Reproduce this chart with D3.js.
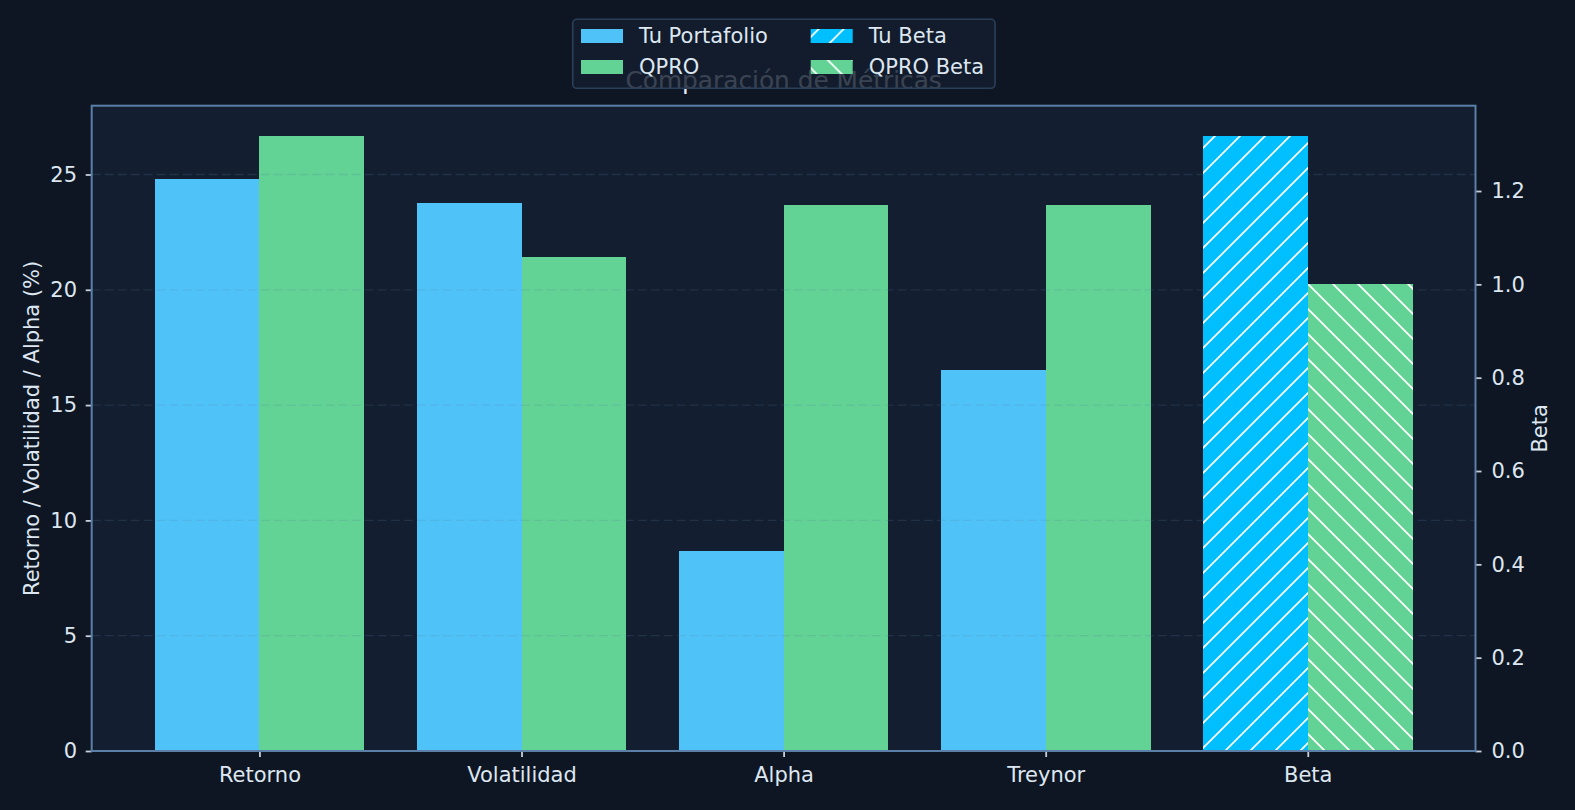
<!DOCTYPE html>
<html>
<head>
<meta charset="utf-8">
<script src="https://cdn.jsdelivr.net/npm/d3@7"></script>
<style>
  html, body { margin: 0; padding: 0; background: #0f1623; overflow: hidden; }
  svg { display: block; font-family: "DejaVu Sans", sans-serif; }
</style>
</head>
<body>
<div id="wrapper"></div>
<script>
// data
const categories = ["Retorno", "Volatilidad", "Alpha", "Treynor", "Beta"]
const metricCategories = ["Retorno", "Volatilidad", "Alpha", "Treynor"]
const portfolioValues = [24.79, 23.75, 8.67, 16.51]
const benchmarkValues = [26.65, 21.41, 23.67, 23.67]
const betaCategory = "Beta"
const betaValues = [1.317, 1.0]
const leftTicks = [0, 5, 10, 15, 20, 25]
const rightTicks = [0, 0.2, 0.4, 0.6, 0.8, 1.0, 1.2]
const seriesNames = ["Tu Portafolio", "QPRO", "Tu Beta", "QPRO Beta"]

function draw(){

    // 1. Dimensions
    let dimensions = {
        width: 1575,
        height: 810,
        margin: {top: 105.7, right: 99.5, bottom: 59, left: 91.7},
    }
    dimensions.boundedWidth = dimensions.width - dimensions.margin.left - dimensions.margin.right
    dimensions.boundedHeight = dimensions.height - dimensions.margin.top - dimensions.margin.bottom

    const colors = {
        portfolio: "#4fc3f7",
        benchmark: "#62d394",
        beta: "#00bfff",
        text: "#dde7f1",
        spine: "#5b7fa6",
        tick: "#c5d0dc",
        axesBg: "#131e30",
    }
    const fontSize = 21
    const barWidth = 0.4

    // 2. Scales (absolute pixel ranges so the hatch lines up everywhere)
    const left = dimensions.margin.left
    const right = dimensions.width - dimensions.margin.right
    const top = dimensions.margin.top
    const bottom = dimensions.height - dimensions.margin.bottom

    const xScale = d3.scaleLinear()
        .domain([-0.64, categories.length - 1 + 0.64])
        .range([left, right])

    const yScale = d3.scaleLinear()
        .domain([0, d3.max(benchmarkValues.concat(portfolioValues)) * 1.05])
        .range([bottom, top])

    const yBetaScale = d3.scaleLinear()
        .domain([0, d3.max(betaValues) * 1.05])
        .range([bottom, top])

    const idx = c => categories.indexOf(c)

    // 3. Canvas
    const svg = d3.select("#wrapper")
        .append("svg")
        .attr("width", dimensions.width)
        .attr("height", dimensions.height)

    svg.append("rect")
        .attr("width", dimensions.width)
        .attr("height", dimensions.height)
        .attr("fill", "#0f1623")

    // hatch patterns
    const defs = svg.append("defs")
    const hatchUp = defs.append("pattern")
        .attr("id", "hatch-up")
        .attr("patternUnits", "userSpaceOnUse")
        .attr("width", 25).attr("height", 25)
    hatchUp.append("rect").attr("width", 25).attr("height", 25).attr("fill", colors.beta)
    hatchUp.append("path")
        .attr("d", "M-1,2L2,-1M-1,27L27,-1M24,27L27,24")
        .attr("stroke", "white").attr("stroke-width", 1.7)

    const hatchDown = defs.append("pattern")
        .attr("id", "hatch-down")
        .attr("patternUnits", "userSpaceOnUse")
        .attr("width", 25).attr("height", 25)
    hatchDown.append("rect").attr("width", 25).attr("height", 25).attr("fill", colors.benchmark)
    hatchDown.append("path")
        .attr("d", "M-2,-1L27,28M23,-1L27,3M-2,24L2,28")
        .attr("stroke", "white").attr("stroke-width", 1.7)

    // axes background
    svg.append("rect")
        .attr("x", left).attr("y", top)
        .attr("width", dimensions.boundedWidth)
        .attr("height", dimensions.boundedHeight)
        .attr("fill", colors.axesBg)

    // 4. Primary bars
    const bars = svg.append("g")
        .attr("class", "bars")
        .attr("shape-rendering", "crispEdges")

    bars.selectAll(".bar-portfolio")
        .data(metricCategories.map((c, i) => ({c, v: portfolioValues[i]})))
        .join("rect")
        .attr("class", "bar-portfolio")
        .attr("x", d => xScale(idx(d.c) - barWidth))
        .attr("width", d => xScale(idx(d.c)) - xScale(idx(d.c) - barWidth))
        .attr("y", d => yScale(d.v))
        .attr("height", d => yScale(0) - yScale(d.v))
        .attr("fill", colors.portfolio)

    bars.selectAll(".bar-benchmark")
        .data(metricCategories.map((c, i) => ({c, v: benchmarkValues[i]})))
        .join("rect")
        .attr("class", "bar-benchmark")
        .attr("x", d => xScale(idx(d.c)))
        .attr("width", d => xScale(idx(d.c) + barWidth) - xScale(idx(d.c)))
        .attr("y", d => yScale(d.v))
        .attr("height", d => yScale(0) - yScale(d.v))
        .attr("fill", colors.benchmark)

    // grid (left axis only, above the primary bars)
    svg.append("g")
        .attr("class", "grid")
        .selectAll("line")
        .data(leftTicks.filter(d => d > 0))
        .join("line")
        .attr("x1", left).attr("x2", right)
        .attr("y1", d => yScale(d)).attr("y2", d => yScale(d))
        .attr("stroke", "#5b7fa6")
        .attr("stroke-opacity", 0.2)
        .attr("stroke-width", 1.3)
        .attr("stroke-dasharray", "9,4")

    // 5. Beta bars on the twin axis
    const betaBars = svg.append("g")
        .attr("class", "beta-bars")
        .attr("shape-rendering", "crispEdges")
    const bi = idx(betaCategory)

    betaBars.selectAll("rect")
        .data(betaValues)
        .join("rect")
        .attr("x", (d, i) => xScale(bi - barWidth + i * barWidth))
        .attr("width", xScale(bi) - xScale(bi - barWidth))
        .attr("y", d => yBetaScale(d))
        .attr("height", d => yBetaScale(0) - yBetaScale(d))
        .attr("fill", (d, i) => i === 0 ? "url(#hatch-up)" : "url(#hatch-down)")

    // 6. Axes
    const styleAxis = g => {
        g.select(".domain").remove()
        g.selectAll(".tick line").attr("stroke", colors.tick).attr("stroke-width", 1.8)
        g.selectAll(".tick text")
            .attr("fill", colors.text)
            .style("font-size", `${fontSize}px`)
            .style("font-family", "DejaVu Sans")
    }

    svg.append("g")
        .attr("class", "x-axis")
        .attr("transform", `translate(0, ${bottom})`)
        .call(d3.axisBottom(xScale)
            .tickValues(categories.map((c, i) => i))
            .tickFormat(i => categories[i])
            .tickSize(6)
            .tickPadding(10.5))
        .call(styleAxis)

    svg.append("g")
        .attr("class", "y-axis")
        .attr("transform", `translate(${left}, 0)`)
        .call(d3.axisLeft(yScale)
            .tickValues(leftTicks)
            .tickFormat(d3.format("d"))
            .tickSize(6)
            .tickPadding(8.7))
        .call(styleAxis)

    svg.append("g")
        .attr("class", "y-axis-beta")
        .attr("transform", `translate(${right}, 0)`)
        .call(d3.axisRight(yBetaScale)
            .tickValues(rightTicks)
            .tickFormat(d3.format(".1f"))
            .tickSize(6)
            .tickPadding(10))
        .call(styleAxis)

    // spines
    svg.append("rect")
        .attr("x", left).attr("y", top)
        .attr("width", dimensions.boundedWidth)
        .attr("height", dimensions.boundedHeight)
        .attr("fill", "none")
        .attr("stroke", colors.spine)
        .attr("stroke-width", 2)

    // axis titles
    svg.append("text")
        .attr("transform", `translate(32, ${(top + bottom) / 2}) rotate(-90)`)
        .attr("text-anchor", "middle")
        .attr("dy", "0.35em")
        .attr("fill", colors.text)
        .style("font-size", `${fontSize}px`)
        .text("Retorno / Volatilidad / Alpha (%)")

    svg.append("text")
        .attr("transform", `translate(1540, ${(top + bottom) / 2}) rotate(-90)`)
        .attr("text-anchor", "middle")
        .attr("dy", "0.35em")
        .attr("fill", colors.text)
        .style("font-size", `${fontSize}px`)
        .text("Beta")

    // title (sits under the legend)
    svg.append("text")
        .attr("x", (left + right) / 2)
        .attr("y", 89)
        .attr("text-anchor", "middle")
        .attr("fill", "#e6edf3")
        .style("font-size", "24.8px")
        .text("Comparación de Métricas")

    // 7. Legend
    const legend = svg.append("g").attr("id", "legend")

    legend.append("rect")
        .attr("x", 572.7).attr("y", 19.3)
        .attr("width", 422.3).attr("height", 69)
        .attr("rx", 4)
        .attr("fill", "#131d2e")
        .attr("fill-opacity", 0.82)
        .attr("stroke", "#2b3f58")
        .attr("stroke-width", 1.6)

    const legendFills = [colors.portfolio, colors.benchmark, "url(#hatch-up)", "url(#hatch-down)"]
    const legendCols = [581, 810.7]
    const legendRows = [36, 67]

    const items = legend.selectAll(".item")
        .data(seriesNames)
        .join("g")
        .attr("class", "item")
        .attr("transform", (d, i) => `translate(${legendCols[Math.floor(i / 2)]}, ${legendRows[i % 2]})`)

    items.append("rect")
        .attr("x", 0).attr("y", -7)
        .attr("width", 42).attr("height", 14)
        .attr("fill", (d, i) => legendFills[i])

    items.append("text")
        .attr("x", 58)
        .attr("dy", "0.35em")
        .attr("fill", colors.text)
        .style("font-size", "21px")
        .text(d => d)
}

draw()
</script>
</body>
</html>
